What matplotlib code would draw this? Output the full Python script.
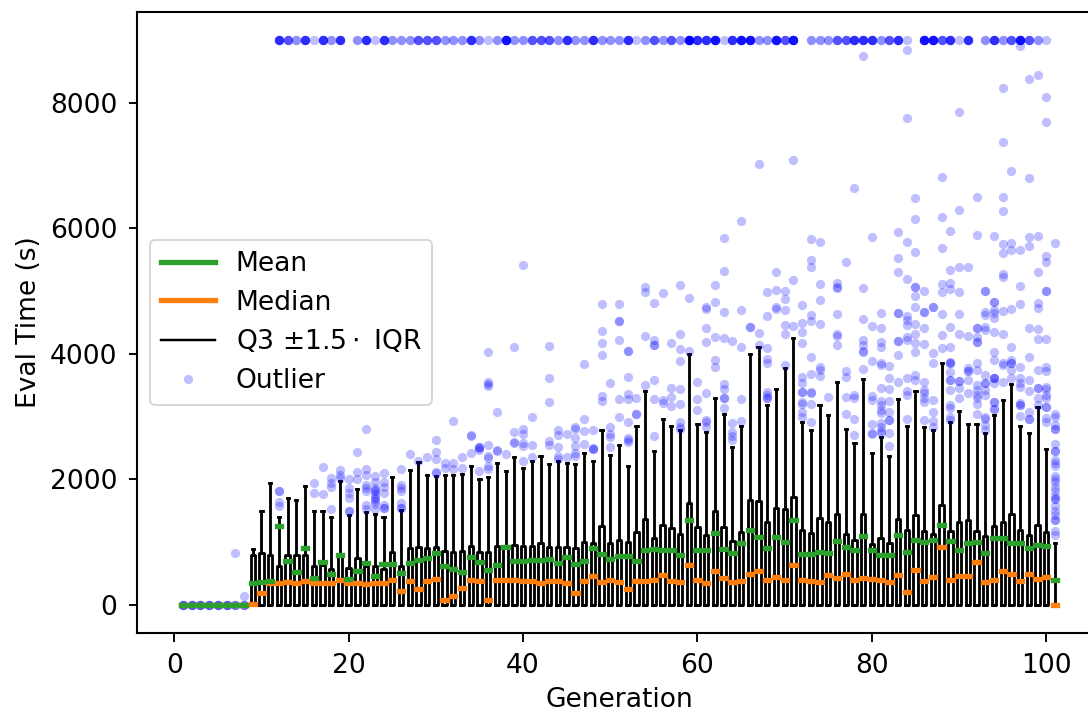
import matplotlib
matplotlib.use("Agg")
import matplotlib.pyplot as plt
from matplotlib.lines import Line2D

generations = list(range(1, 102))

q3 = [0]*8 + [797,823,786,622,797,786,791,622,637,574,770,590,749,611,611,568,839,611,903,914,908,914,850,839,861,930,839,845,940,914,956,930,930,977,919,924,924,908,993,983,1259,988,1031,993,1158,1365,1062,1264,1227,1121,1620,1232,1105,1498,1232,1015,1153,1673,1657,1312,1546,1530,1726,1190,1142,1381,1312,1450,1131,1036,1455,972,1068,983,1365,1185,1429,1169,1126,1594,1169,1317,1349,1169,1100,1248,1317,1450,1185,1110,1270,1158,0]

whisker_high = [0]*8 + [887,1487,1939,1397,1700,1663,1886,1487,1487,1402,1981,1434,1843,1477,1445,1397,2029,1503,2151,2274,2066,2045,2072,2072,2082,2215,2013,2034,2263,2125,2353,2183,2295,2369,2252,2300,2263,2247,2417,2300,2789,2385,2544,2220,2843,3405,2444,2959,2843,2789,4000,2880,2757,3294,3044,2523,2853,4000,4117,3187,3437,3782,4260,2911,2789,3187,3028,3549,2800,2577,3596,2427,2667,2369,3283,2847,3405,2832,2789,3862,2911,3097,2874,2874,2736,3028,3267,3522,2843,2746,3145,2486,983]

means = [0]*8 + [345,361,372,1248,691,521,903,425,680,489,786,414,537,659,462,648,648,505,669,706,749,818,616,574,521,765,675,552,627,914,696,691,712,712,728,664,760,648,691,903,802,733,776,776,701,871,892,876,876,786,1349,876,876,1147,887,823,983,1190,1084,903,1084,999,1349,807,813,845,818,1020,919,876,1100,871,797,797,1116,834,1031,1004,1031,1270,1015,871,983,999,818,1068,1068,977,977,908,946,930,388]

medians = [0]*8 + [16,191,345,351,361,351,372,351,351,351,398,351,345,329,351,351,388,218,382,250,382,409,74,143,271,388,382,74,393,398,393,372,377,345,377,377,351,191,382,457,361,393,367,255,377,377,388,467,377,367,627,388,345,542,420,361,377,483,537,388,441,393,637,388,372,356,467,425,489,393,430,409,393,367,467,202,547,382,441,919,393,462,457,680,361,398,542,494,372,483,409,441,0]

timeout_counts = [0]*11 + [6,4,2,6,1,6,2,6,0,2,6,1,6,2,2,2,4,4,4,2,2,2,6,2,1,2,9,2,2,4,4,4,2,6,2,2,6,2,2,2,6,1,2,4,2,4,2,12,6,6,9,1,6,9,9,2,2,9,4,9,0,2,2,2,4,4,6,6,6,2,4,6,1,0,9,9,4,6,1,6,0,2,6,2,4,9,4,2,1,0]

outliers = {
 1:[0,0,0,0], 2:[0,0,0,0], 3:[0,0,0,0], 4:[0,0,0,0], 5:[0,0,0,0], 6:[0,0,0,0],
 7:[0,0,0,823], 8:[0,0,0,132],
 12:[1816,1816,1636,1567],
 16:[1938,1779], 17:[2204,1768], 18:[2018,1938,1885,1524],
 19:[2151,2071,2018], 20:[2002,1859,1779,1699,1487,1487],
 21:[2443,2114,2002], 22:[2799,2161,2071,1912,1859,1806,1593,1524],
 23:[2055,1965,1859,1830,1806,1770,1720,1690,1650,1600,1530],
 24:[2098,1965,1885,1779,1593,1540,1540],
 26:[2167,1912,1859,1806,1630,1540,1540],
 27:[2400], 28:[2300], 29:[2353], 30:[2619,2443,2326,2124,2098],
 31:[2257,2177], 32:[2932,2257,2162], 33:[2353,2177],
 34:[2693,2700,2417], 35:[2523,2520,2502,2470,2140],
 36:[4032,3559,3522,3490,2550,2374,2337,2215,2161],
 37:[3081,2470,2454], 38:[2406], 39:[4117,2762,2597,2586],
 40:[5418,2810,2725,2576,2534,2300], 41:[2990,2550,2363],
 43:[4127,3612,3240,2613,2540], 44:[2789,2709,2523,2374,2320],
 45:[2720,2363], 46:[2832,2800,2656,2534,2427,2374],
 47:[3840,2959,2773,2566], 48:[2789,2497,2490,2480],
 49:[4797,4372,4170,3979,3336,3251],
 50:[3543,2832,2725,2672,2523],
 51:[4797,4520,4520,4223,3283,2990],
 52:[4048,4048,3628,3363,3283,2911,2656,2619,2602],
 53:[3304,3044,3044], 54:[5062,4983,4292,3511],
 55:[4818,4223,4143,4143,3591,3278,2683],
 56:[4977,3267,3214], 57:[4170,3458,3309,3176],
 58:[5094,4319,4085,3883,3442,3203,2906,2842,2805],
 59:[4887,4048], 60:[3548,3278,3107],
 61:[4744,4712,4409,4191,3384,2948,2906,2842],
 62:[5100,4834,4276,3904,3787],
 63:[5854,5328,4664,4260,3522,3437,3304,3304,3134],
 64:[4212,2895,2762,2683,2619],
 65:[6120,4701,4106,3278,2922], 66:[4430,4430],
 67:[7028,4329,4143], 68:[4993,4611,4090,3915,3862,3400,3347,3293,3293],
 69:[5307,5020,4754,4712], 70:[4999,4871,4701,4457,4313,3825],
 71:[7092,5174,4446],
 72:[4781,4499,4345,4175,3639,3532,3400,3400,3240,3203,3081,2990],
 73:[5827,5498,5392,4627,4531,3957,3676,3400,3373,3198,2906],
 74:[5785,5115,4855,4478,3787,3745,3655], 75:[3309],
 76:[5126,5073,5046,4632,4319,4287,4143],
 77:[5466,3734,3639,3320,3038], 78:[6645,3347,3293,2964,2709],
 79:[8749,5046,4563,4223,4143,4053,4027,3755],
 80:[5859,4446,3883,3336,3267,2879,2746,2725],
 81:[4653,4414,4196,4106,3862,3825,3453,3256,3187,3107,3065,2895,2842,2773,2736],
 82:[3809,3612,3442,3251,3070,2938,2938,2746,2534],
 83:[5949,5530,5307,4659,4659,4212,4212,3984,3548],
 84:[8845,7756,5785,5190,4605,4542,4462,4265,4223,3612,3410,3347,2964],
 85:[6491,6157,5631,5073,5073,4929,4754,4483,4319,4170,4037,3665,3585],
 86:[5004,4675,4675,4420,4159,3554,3426,3373,3293,3240,2943],
 87:[4754,4754,4010,3851,3267,3070,2922,2842],
 88:[6826,6183,5684,5110,4988,4637,4303,4090],
 89:[5960,5338,5137,5036,4436,4117,3878,3851,3851,3708,3585,3585,3426,3187,3134,3001,2948],
 90:[7857,6295,5392,4988,4637,4319,3575,3575,3453,3293],
 91:[5381,4287,3771,3729,3729,3585,3384],
 92:[6497,5896,4420,4420,4265,4196,4196,3851,3745,3506,3426,3347,3293,3203,3049],
 93:[5009,5009,4675,4621,4436,4382,3671,3532,3532,3426,3347,3001,2959,2868,2789],
 94:[5886,4834,4834,4701,4648,4579,4345,4037,3904,3612,3612,3612,3532,3240,3240,3118,3118],
 95:[8234,7373,6497,6279,5748,5604,5269,5232,4690,4313,3851,3825,3554],
 96:[6916,5763,5657,4712,4117,3904,3851,3851,3745,3623],
 97:[8914,5657,5084,4797,3798,3612,3543,3479,3224,3187,3187,3017],
 98:[8382,6800,5870,5721,4409,3947,3585,3410,3081,2959,2959],
 99:[8446,5880,5307,4818,4728,4393,4239,3745,3453,3453,3293,3187],
 100:[8090,7697,5562,5460,5009,5009,4239,3787,3734,3479,3437,3347,3293,3150,3150,2975,2911],
 101:[5763,3039,2991,2869,2800,2800,2566,2444,2444,2311,2258,2205,2045,2003,1950,1876,1806,1737,1684,1684,1568,1488,1435,1355,1355,1169,1116],
}

BLUE = "#0000ff"
GREEN = "#2ca02c"
ORANGE = "#ff7f0e"
LW = 1.5
THICK = 2.8
DOT = 4.9

fig = plt.figure(figsize=(1088/136, 712/136), dpi=136)
# the right end of the axes lies beyond the edge of the picture, as in the reference
ax = fig.add_axes([137/1088, 1-633/712, (1101-137)/1088, (633-12)/712])

stats = []
for i, g in enumerate(generations):
    stats.append(dict(
        med=medians[i], q1=0, q3=q3[i], whislo=0, whishi=whisker_high[i],
        mean=means[i], fliers=outliers.get(g, []) + [9000]*timeout_counts[i],
    ))

ax.bxp(stats, positions=generations, widths=0.5, manage_ticks=False,
       showmeans=True, meanline=True,
       boxprops=dict(color="black", linewidth=LW),
       whiskerprops=dict(color="black", linewidth=LW),
       capprops=dict(color="black", linewidth=LW),
       medianprops=dict(color=ORANGE, linewidth=THICK, solid_capstyle="projecting"),
       meanprops=dict(color=GREEN, linewidth=THICK, linestyle="-", solid_capstyle="projecting"),
       flierprops=dict(marker="o", markerfacecolor=BLUE, markeredgecolor="none",
                       markersize=DOT, alpha=0.25, linestyle="none"))

ax.set_xlim(-4.275, 106.275)
ax.set_ylim(-450, 9450)
ax.set_xticks([0, 20, 40, 60, 80, 100])
ax.set_yticks([0, 2000, 4000, 6000, 8000])
ax.tick_params(labelsize=14, length=4.5, width=1, pad=6)
for s in ax.spines.values():
    s.set_linewidth(1.1)
ax.set_xlabel("Generation", fontsize=14, labelpad=4.2)
ax.set_ylabel("Eval Time (s)", fontsize=14, labelpad=4)

handles = [
    Line2D([], [], color=GREEN, lw=THICK),
    Line2D([], [], color=ORANGE, lw=THICK),
    Line2D([], [], color="black", lw=1.3),
    Line2D([], [], color=BLUE, marker="o", markeredgecolor="none", markersize=DOT,
           alpha=0.25, linestyle="none"),
]
labels = ["Mean", "Median", r"Q3 $\pm 1.5\cdot$ IQR", "Outlier"]
ax.legend(handles, labels, loc="center left", fontsize=14, handlelength=2.04,
          labelspacing=0.48,
          bbox_to_anchor=((150-137)/(1101-137), (633-322.5)/(633-12)),
          borderaxespad=0)

fig.savefig("out.png", dpi=136)
